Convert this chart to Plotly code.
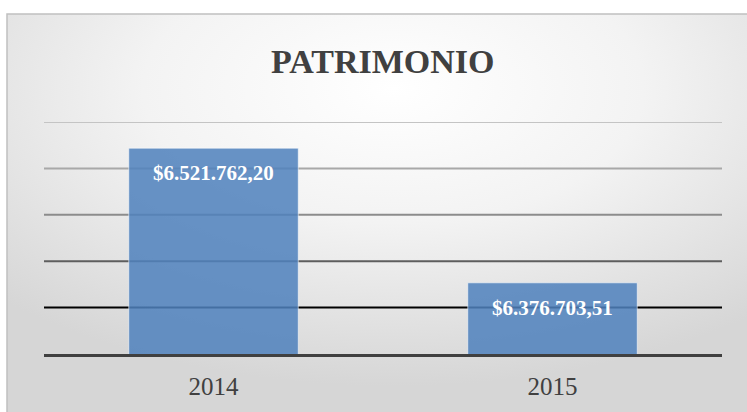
import base64
import plotly.graph_objects as go

# ---- data ----
categories = ["2014", "2015"]
values = [6521762.20, 6376703.51]
title_text = "PATRIMONIO"
axis_min = 6300000
axis_max = 6550000
grid_values = [6350000, 6400000, 6450000, 6500000, 6550000]
grid_colors = ["#000000", "#5e5e5e", "#8c8c8c", "#a8a8a8", "#c4c4c4"]


def fmt_es(v):
    s = f"{v:,.2f}"
    s = s.replace(",", "X").replace(".", ",").replace("X", ".")
    return "$" + s


W, H = 747, 412
L, R, T, B = 44, 25, 122, 56
pw, ph = W - L - R, H - T - B


def px_to_paper_x(px):
    return (px - L) / pw


def px_to_paper_y(py):
    return (H - B - py) / ph


svg = ('<svg xmlns="http://www.w3.org/2000/svg" width="800" height="420" viewBox="0 0 800 420" '
       'preserveAspectRatio="none"><defs><radialGradient id="g" cx="0.5" cy="0.18" r="0.72">'
       '<stop offset="0" stop-color="#ffffff"/><stop offset="0.45" stop-color="#f3f3f3"/>'
       '<stop offset="1" stop-color="#d6d6d6"/></radialGradient></defs>'
       '<rect width="800" height="420" fill="url(#g)"/></svg>')
src = "data:image/svg+xml;base64," + base64.b64encode(svg.encode()).decode()

fig = go.Figure()
fig.add_trace(go.Bar(
    x=categories, y=values, width=0.5,
    marker=dict(color="rgba(79,129,189,0.86)", line=dict(color="rgba(255,255,255,0.55)", width=1)),
    hoverinfo="skip",
))

shapes = []
for gv, gc in zip(grid_values, grid_colors):
    shapes.append(dict(type="line", xref="paper", yref="y", x0=0, x1=1, y0=gv, y1=gv,
                       line=dict(color=gc, width=2), layer="below"))
# chart frame
shapes.append(dict(type="rect", xref="paper", yref="paper",
                   x0=px_to_paper_x(7), x1=px_to_paper_x(780),
                   y0=px_to_paper_y(430), y1=px_to_paper_y(13),
                   line=dict(color="#c0c0c0", width=1.5), fillcolor="rgba(0,0,0,0)", layer="below"))

annotations = []
for i, v in enumerate(values):
    annotations.append(dict(x=i, y=v, xref="x", yref="y", text=f"<b>{fmt_es(v)}</b>", showarrow=False,
                            yshift=-25, font=dict(family="Liberation Serif", size=21, color="white"),
                            yanchor="middle"))
annotations.append(dict(x=0.5, y=px_to_paper_y(61), xref="paper", yref="paper",
                        text=f"<b>{title_text}</b>", showarrow=False, yanchor="middle",
                        font=dict(family="Liberation Serif", size=34, color="#404040")))

fig.update_layout(
    width=W, height=H,
    margin=dict(l=L, r=R, t=T, b=B),
    paper_bgcolor="white",
    plot_bgcolor="rgba(0,0,0,0)",
    showlegend=False,
    shapes=shapes,
    annotations=annotations,
    images=[dict(source=src, xref="paper", yref="paper",
                 x=px_to_paper_x(7), y=px_to_paper_y(13),
                 sizex=(780 - 7) / pw, sizey=(430 - 13) / ph,
                 sizing="stretch", xanchor="left", yanchor="top", layer="below")],
    xaxis=dict(type="category", range=[-0.5, len(categories) - 0.5], showline=True,
               linecolor="#404040", linewidth=3, showgrid=False,
               ticks="", tickfont=dict(family="Liberation Serif", size=25, color="#404040"),
               ticklabelstandoff=8),
    yaxis=dict(range=[axis_min, axis_max], showgrid=False, showticklabels=False,
               zeroline=False, showline=False),
)

fig.write_html("out.html", config={"displayModeBar": False},
               post_script="document.body.style.margin='0';document.body.style.overflow='hidden';")
